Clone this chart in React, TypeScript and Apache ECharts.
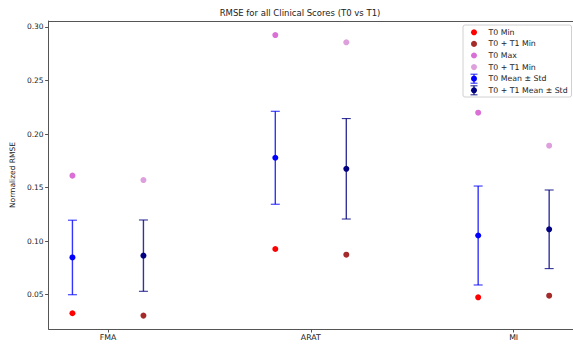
import React, { useEffect, useRef } from "react";
import * as echarts from "echarts";

const categories = ["FMA", "ARAT", "MI"];
const yTicks = [0.05, 0.1, 0.15, 0.2, 0.25, 0.3];
const t0Min = [0.0327, 0.0927, 0.0476];
const t0t1Min = [0.0305, 0.0874, 0.0491];
const t0Max = [0.1612, 0.2925, 0.22];
const t0t1Max = [0.1571, 0.2857, 0.1892];
const t0Mean = [0.0848, 0.1779, 0.1053];
const t0Std = [0.0348, 0.0434, 0.0462];
const t0t1Mean = [0.0865, 0.1676, 0.1111];
const t0t1Std = [0.0333, 0.0469, 0.0367];

const legendLabels = [
  "T0 Min",
  "T0 + T1 Min",
  "T0 Max",
  "T0 + T1 Min",
  "T0 Mean ± Std",
  "T0 + T1 Mean ± Std",
];

const OFF = 0.175;
const FONT = "DejaVu Sans";
const AXIS_COLOR = "#555";

export default function App() {
  const ref = useRef<HTMLDivElement>(null);
  useEffect(() => {
    document.body.style.margin = "0";
    const chart = echarts.init(ref.current!, null, { renderer: "svg" });

    const pts = (vals: number[], off: number) => vals.map((v, i) => [i + off, v]);
    const errData = (m: number[], s: number[], off: number) =>
      m.map((v, i) => [i + off, v - s[i], v + s[i]]);

    const errSeries = (name: string, data: number[][], color: string) => ({
      type: "custom",
      name,
      data,
      z: 3,
      renderItem: (params: any, api: any) => {
        const x = api.value(0);
        const lo = api.coord([x, api.value(1)]);
        const hi = api.coord([x, api.value(2)]);
        const hw = 4.5;
        const style = { stroke: color, lineWidth: 1.4, opacity: 0.8 };
        return {
          type: "group",
          children: [
            { type: "line", shape: { x1: lo[0], y1: lo[1], x2: hi[0], y2: hi[1] }, style },
            { type: "line", shape: { x1: hi[0] - hw, y1: hi[1], x2: hi[0] + hw, y2: hi[1] }, style: { ...style, lineWidth: 1.1 } },
            { type: "line", shape: { x1: lo[0] - hw, y1: lo[1], x2: lo[0] + hw, y2: lo[1] }, style: { ...style, lineWidth: 1.1 } },
          ],
        };
      },
    });

    const scatter = (name: string, data: number[][], color: string, z = 4) => ({
      type: "scatter",
      name,
      data,
      symbolSize: 6,
      z,
      itemStyle: { color, opacity: 1 },
    });

    // legend graphics
    const lx = 474;
    const tx = 488.5;
    const ly0 = 32.3;
    const lgap = 11.6;
    const legendColors = ["#ff0000", "#a52a2a", "#da70d6", "#dda0dd", "#0000ff", "#000080"];
    const legendChildren: any[] = [
      {
        type: "rect",
        shape: { x: 463, y: 25, width: 108.5, height: 72, r: 2 },
        style: { fill: "rgba(255,255,255,0.8)", stroke: "#d0d0d0", lineWidth: 1 },
      },
    ];
    legendLabels.forEach((lab, i) => {
      const y = ly0 + i * lgap;
      const c = legendColors[i];
      if (i >= 4) {
        legendChildren.push(
          { type: "line", shape: { x1: lx, y1: y - 4.5, x2: lx, y2: y + 4.5 }, style: { stroke: c, lineWidth: 1.4, opacity: 0.8 } },
          { type: "line", shape: { x1: lx - 3.5, y1: y - 4.5, x2: lx + 3.5, y2: y - 4.5 }, style: { stroke: c, lineWidth: 1.1, opacity: 0.8 } },
          { type: "line", shape: { x1: lx - 3.5, y1: y + 4.5, x2: lx + 3.5, y2: y + 4.5 }, style: { stroke: c, lineWidth: 1.1, opacity: 0.8 } }
        );
      }
      legendChildren.push({ type: "circle", shape: { cx: lx, cy: y, r: 3 }, style: { fill: c } });
      legendChildren.push({
        type: "text",
        x: tx,
        y,
        style: { text: lab, fill: "#222", font: `7.8px '${FONT}'`, textVerticalAlign: "middle", textAlign: "left" },
      });
    });

    const lineStyle = { color: AXIS_COLOR, width: 1 };

    chart.setOption({
      animation: false,
      backgroundColor: "#ffffff",
      grid: { left: 44, top: 21, width: 532, height: 308 },
      xAxis: [
        {
          type: "value",
          position: "bottom",
          min: -0.2925,
          max: 2.2925,
          splitLine: { show: false },
          axisLine: { show: true, onZero: false, lineStyle },
          axisTick: { show: true, customValues: [0, 1, 2], length: 3.5, lineStyle },
          axisLabel: {
            customValues: [0, 1, 2],
            formatter: (v: number) => categories[Math.round(v)] ?? "",
            fontFamily: FONT,
            fontSize: 7.8,
            color: "#222",
            margin: 4,
          },
        },
        {
          type: "value",
          position: "top",
          min: -0.2925,
          max: 2.2925,
          splitLine: { show: false },
          axisLine: { show: true, onZero: false, lineStyle },
          axisTick: { show: false },
          axisLabel: { show: false },
        },
      ],
      yAxis: {
        type: "value",
        min: 0.018,
        max: 0.3056,
        name: "Normalized RMSE",
        nameLocation: "middle",
        nameGap: 30,
        nameRotate: 90,
        nameTextStyle: { fontFamily: FONT, fontSize: 7.5, color: "#222" },
        splitLine: { show: false },
        axisLine: { show: true, onZero: false, lineStyle },
        axisTick: { show: true, customValues: yTicks, length: 3.5, lineStyle },
        axisLabel: {
          customValues: yTicks,
          formatter: (v: number) => v.toFixed(2),
          fontFamily: FONT,
          fontSize: 7.5,
          color: "#222",
          margin: 5,
        },
      },
      graphic: [
        {
          type: "text",
          x: 300,
          y: 12.7,
          style: {
            text: "RMSE for all Clinical Scores (T0 vs T1)",
            font: `8.5px '${FONT}'`,
            fill: "#222",
            textAlign: "center",
            textVerticalAlign: "middle",
          },
        },
        { type: "group", z: 100, children: legendChildren },
      ],
      series: [
        scatter("T0 Min", pts(t0Min, -OFF), "#ff0000"),
        scatter("T0 + T1 Min", pts(t0t1Min, OFF), "#a52a2a"),
        scatter("T0 Max", pts(t0Max, -OFF), "#da70d6"),
        scatter("T0 + T1 Max", pts(t0t1Max, OFF), "#dda0dd"),
        errSeries("T0 Std", errData(t0Mean, t0Std, -OFF), "#0000ff"),
        errSeries("T0 + T1 Std", errData(t0t1Mean, t0t1Std, OFF), "#000080"),
        scatter("T0 Mean ± Std", pts(t0Mean, -OFF), "#0000ff", 5),
        scatter("T0 + T1 Mean ± Std", pts(t0t1Mean, OFF), "#000080", 5),
      ],
    });
    return () => chart.dispose();
  }, []);
  return <div ref={ref} style={{ width: 573, height: 346 }} />;
}
